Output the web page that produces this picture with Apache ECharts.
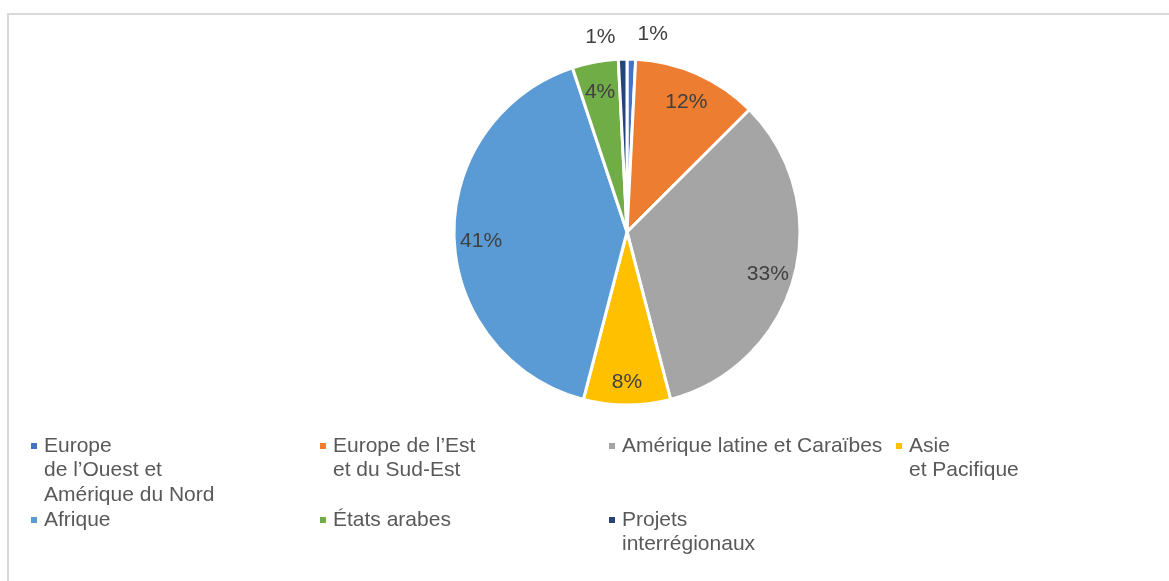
<!DOCTYPE html>
<html>
<head>
<meta charset="utf-8">
<script src="https://cdn.jsdelivr.net/npm/echarts@6/dist/echarts.min.js"></script>
<style>
  html, body { margin: 0; padding: 0; background: #fff; }
  #chart { width: 1169px; height: 581px; }
</style>
</head>
<body>
<div id="chart"></div>
<script>
// 数据
var regions = [
  "Europe de l’Ouest et Amérique du Nord",
  "Europe de l’Est et du Sud-Est",
  "Amérique latine et Caraïbes",
  "Asie et Pacifique",
  "Afrique",
  "États arabes",
  "Projets interrégionaux"
];
var legendLabels = [
  "Europe\nde l’Ouest et\nAmérique du Nord",
  "Europe de l’Est\net du Sud-Est",
  "Amérique latine et Caraïbes",
  "Asie\net Pacifique",
  "Afrique",
  "États arabes",
  "Projets\ninterrégionaux"
];
var shares = [0.8, 11.7, 33.4, 8.1, 40.8, 4.3, 0.8];
var colors = ["#4472C4", "#ED7D31", "#A5A5A5", "#FFC000", "#5B9BD5", "#70AD47", "#264478"];

(function() {
  var myChart = echarts.init(document.getElementById("chart"));
  var font = "Liberation Sans";
  var LH = 24.5;

  // 图例位置 (左, 图标中心y)
  var legendPos = [
    [31, 446], [320, 446], [609, 446], [896, 446],
    [31, 520], [320, 520], [609, 520]
  ];
  // 小扇区标签偏移
  var labelOffsets = { 0: [22, -56], 6: [-23, -53] };

  var legends = regions.map(function(name, i) {
    var lines = legendLabels[i].split("\n").length;
    // 前面补空行, 让第一行对齐图标
    var text = new Array(lines).join("\n") + legendLabels[i];
    return {
      left: legendPos[i][0],
      top: legendPos[i][1] - (2 * lines - 1) * LH / 2,
      padding: 0,
      icon: "rect",
      itemWidth: 6,
      itemHeight: 6,
      selectedMode: false,
      itemStyle: { borderWidth: 0 },
      data: [{ name: name, itemStyle: { color: colors[i], borderWidth: 0 } }],
      formatter: function() { return text; },
      textStyle: {
        color: "#595959",
        fontFamily: font,
        fontSize: 21,
        lineHeight: LH,
        padding: [0, 0, 0, 2]
      }
    };
  });

  var option = {
    animation: false,
    graphic: [{
      type: "rect",
      shape: { x: 8, y: 14, width: 1200, height: 600 },
      style: { fill: "none", stroke: "#d9d9d9", lineWidth: 2 },
      silent: true
    }],
    legend: legends,
    series: [
      {
        name: "Répartition",
        type: "pie",
        center: [627, 232],
        radius: [0, 173],
        startAngle: 90,
        clockwise: true,
        avoidLabelOverlap: false,
        label: { show: false },
        labelLine: { show: false },
        itemStyle: { borderColor: "#fff", borderWidth: 3 },
        emphasis: { disabled: true },
        data: regions.map(function(name, i) {
          return { name: name, value: shares[i], itemStyle: { color: colors[i] } };
        })
      },
      {
        // 标签层
        name: "Étiquettes",
        type: "pie",
        center: [627, 236],
        radius: [115, 171],
        startAngle: 90,
        clockwise: true,
        silent: true,
        avoidLabelOverlap: false,
        itemStyle: { color: "transparent", borderWidth: 0 },
        labelLine: { show: false },
        emphasis: { disabled: true },
        label: {
          show: true,
          position: "inside",
          color: "#404040",
          fontFamily: font,
          fontSize: 21,
          formatter: function(p) { return Math.round(p.percent) + "%"; }
        },
        data: regions.map(function(name, i) {
          var d = { name: name, value: shares[i] };
          if (labelOffsets[i]) d.label = { offset: labelOffsets[i] };
          return d;
        })
      }
    ]
  };

  myChart.setOption(option);
  window.addEventListener("resize", function() {
    myChart.resize();
  });
})();
</script>
</body>
</html>
